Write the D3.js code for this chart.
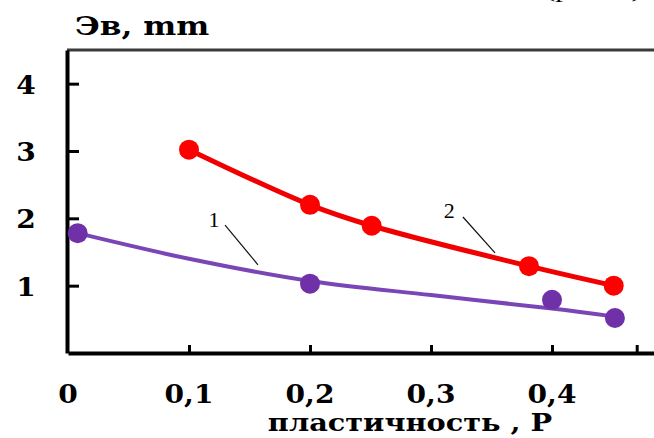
<!DOCTYPE html>
<html>
<head>
<meta charset="utf-8">
<script src="https://cdn.jsdelivr.net/npm/d3@7/dist/d3.min.js"></script>
<style>
  html, body { margin: 0; padding: 0; background: #fff; }
  svg { display: block; }
  text { font-family: "Liberation Serif", "Times New Roman", serif; }
  text.bold { font-family: "DejaVu Serif", serif; font-weight: bold; }
</style>
</head>
<body>
<svg id="chart" width="654" height="438"></svg>
<script>
// ---- data ----
const xTickValues = [0.1, 0.2, 0.3, 0.4, 0.47];
const xTickLabels = ["0", "0,1", "0,2", "0,3", "0,4"];
const xLabelValues = [0, 0.1, 0.2, 0.3, 0.4];
const yTickValues = [1, 2, 3, 4];
const yTickLabels = ["1", "2", "3", "4"];

// series 2 (red)
const s2X = [0.1, 0.2, 0.251, 0.381, 0.451];
const s2Y = [3.02, 2.2, 1.89, 1.29, 1.0];

// series 1 (purple) measured points
const s1X = [0.008, 0.2, 0.4, 0.452];
const s1Y = [1.78, 1.03, 0.79, 0.52];
// series 1 trend line
const t1X = [0.008, 0.1, 0.2, 0.3, 0.4, 0.452];
const t1Y = [1.78, 1.40, 1.07, 0.86, 0.66, 0.54];

// curve annotations
const annLabels = ["1", "2"];
const annTextX = [0.1207, 0.315];
const annTextY = [1.87, 2.0];
const annLineX1 = [0.1298, 0.3264];
const annLineY1 = [1.90, 2.02];
const annLineX2 = [0.157, 0.3529];
const annLineY2 = [1.31, 1.486];

const yTitle = "Эв, mm";
const xTitle = "пластичность , P";
const cornerText = "(рис. 2)";

// ---- layout ----
const svg = d3.select("#chart");
const mLeft = 68, mRight = 654, mTop = 50, mBottom = 353;
const x = d3.scaleLinear().domain([0, (mRight - mLeft) / 1210]).range([mLeft, mRight]);
const y = d3.scaleLinear().domain([0, 4.5]).range([mBottom, mTop]);
const SX = 1.08; // horizontal text stretch of the original

// top border
svg.append("line")
  .attr("x1", mLeft - 1).attr("x2", mRight)
  .attr("y1", mTop).attr("y2", mTop)
  .attr("stroke", "#3a3a3a").attr("stroke-width", 3);

// corner text (cut off at top, as in the original)
svg.append("text")
  .attr("transform", `translate(545,-3) scale(1.4,1)`)
  .attr("font-size", 22)
  .text(cornerText);

// x axis
const xAxis = d3.axisBottom(x)
  .tickValues(xTickValues)
  .tickSizeInner(-8).tickSizeOuter(0)
  .tickFormat(() => "");
const gx = svg.append("g").attr("transform", `translate(0,${mBottom})`).call(xAxis);
gx.select(".domain").attr("stroke", "#000").attr("stroke-width", 4);
gx.selectAll(".tick line").attr("stroke", "#000").attr("stroke-width", 3);

// x labels
svg.append("g").selectAll("text")
  .data(xLabelValues)
  .join("text")
  .attr("class", "bold")
  .attr("transform", (d) => `translate(${x(d)},403) scale(${SX},1)`)
  .attr("text-anchor", "middle")
  .attr("font-size", 26)
  .text((d, i) => xTickLabels[i]);

// y axis
const yAxis = d3.axisLeft(y)
  .tickValues(yTickValues)
  .tickSizeInner(-12).tickSizeOuter(0)
  .tickFormat((d, i) => yTickLabels[i]);
const gy = svg.append("g").attr("transform", `translate(${mLeft - 1},0)`).call(yAxis);
gy.select(".domain").attr("stroke", "#000").attr("stroke-width", 4);
gy.selectAll(".tick line").attr("stroke", "#000").attr("stroke-width", 3);
gy.selectAll(".tick text")
  .attr("class", "bold")
  .attr("x", -29).attr("dy", "0.36em")
  .attr("transform", `scale(${SX},1)`)
  .attr("text-anchor", "end")
  .attr("fill", "#000")
  .attr("font-size", 26);

// titles
svg.append("text")
  .attr("class", "bold")
  .attr("transform", `translate(75,35) scale(1.2,1)`)
  .attr("font-size", 26)
  .text(yTitle);

svg.append("text")
  .attr("class", "bold")
  .attr("transform", `translate(410,431) scale(1.15,1)`)
  .attr("text-anchor", "middle")
  .attr("font-size", 25)
  .text(xTitle);

// lines
const line = d3.line().x(d => x(d[0])).y(d => y(d[1])).curve(d3.curveCatmullRom.alpha(0.5));

svg.append("path")
  .datum(t1X.map((v, i) => [v, t1Y[i]]))
  .attr("d", line)
  .attr("fill", "none")
  .attr("stroke", "#7a45b5")
  .attr("stroke-width", 4);

svg.append("path")
  .datum(s2X.map((v, i) => [v, s2Y[i]]))
  .attr("d", line)
  .attr("fill", "none")
  .attr("stroke", "#f00000")
  .attr("stroke-width", 5);

// markers
svg.append("g").selectAll("circle")
  .data(s1X.map((v, i) => [v, s1Y[i]]))
  .join("circle")
  .attr("cx", d => x(d[0])).attr("cy", d => y(d[1]))
  .attr("r", 10)
  .attr("fill", "#7030a8");

svg.append("g").selectAll("circle")
  .data(s2X.map((v, i) => [v, s2Y[i]]))
  .join("circle")
  .attr("cx", d => x(d[0])).attr("cy", d => y(d[1]))
  .attr("r", 10)
  .attr("fill", "#ff0000");

// annotations
annLabels.forEach((lab, i) => {
  svg.append("line")
    .attr("x1", x(annLineX1[i])).attr("y1", y(annLineY1[i]))
    .attr("x2", x(annLineX2[i])).attr("y2", y(annLineY2[i]))
    .attr("stroke", "#111").attr("stroke-width", 1.2);
  svg.append("text")
    .attr("x", x(annTextX[i])).attr("y", y(annTextY[i]))
    .attr("text-anchor", "middle")
    .attr("font-size", 22)
    .text(lab);
});
</script>
</body>
</html>
